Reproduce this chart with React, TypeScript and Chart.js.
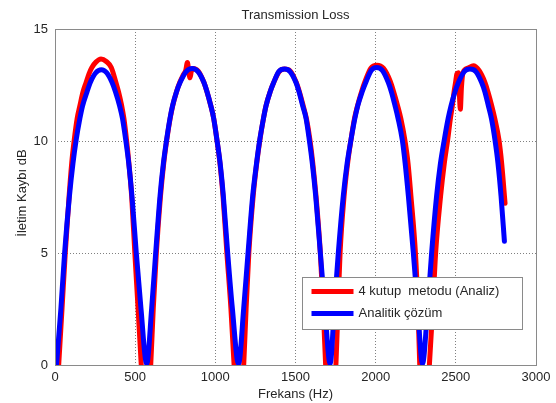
import React, { useEffect, useRef } from "react";
import { Chart, registerables } from "chart.js";

Chart.register(...registerables);

const chartTitle = "Transmission Loss";
const xAxisTitle = "Frekans (Hz)";
const yAxisTitle = "İletim Kaybı dB";
const legendLabels = ["4 kutup  metodu (Analiz)", "Analitik çözüm"];
const seriesColors = ["#ff0000", "#0000ff"];

const xTicks = [0, 500, 1000, 1500, 2000, 2500, 3000];
const yTicks = [0, 5, 10, 15];

// 4 kutup metodu (Analiz) — red
const freqAnaliz = [
  23, 44, 64, 88, 104, 120, 138, 155, 175, 194, 212, 230, 255, 287, 320, 351, 380, 396, 416, 430, 446, 461, 478, 498, 518, 538, 567,
  597, 613, 632, 658, 678, 697, 718, 734, 758, 778, 800, 815, 826, 834, 842, 850, 862, 893, 929, 948, 972, 990, 1010, 1029, 1048, 1072, 1097, 1117, 1145,
  1177, 1192, 1209, 1236, 1258, 1278, 1300, 1316, 1342, 1364, 1398, 1432, 1468, 1505, 1524, 1548, 1568, 1590, 1608, 1628, 1655, 1673, 1688, 1718,
  1752, 1765, 1778, 1803, 1825, 1846, 1868, 1888, 1912, 1936, 1970, 2008, 2048, 2092, 2112, 2137, 2157, 2182, 2202, 2220, 2248, 2264, 2275, 2300,
  2335, 2356, 2374, 2405, 2428, 2449, 2466, 2478, 2489, 2498, 2507, 2516, 2524, 2528, 2535, 2545, 2575, 2609, 2645, 2682, 2700, 2724, 2743, 2769, 2786, 2807,
];
const tlAnaliz = [
  0, 2.54, 5.0, 7.54, 9.0, 10.05, 11.0, 11.57, 12.2, 12.61, 13.0, 13.28, 13.52, 13.66, 13.55, 13.28, 12.61, 12.2, 11.57, 11.0, 10.05, 9.0, 7.54, 5.0, 2.54, 0, -3.5,
  0, 2.54, 5.0, 7.54, 9.0, 10.05, 11.0, 11.57, 12.2, 12.61, 12.95, 13.15, 13.5, 13.1, 12.82, 13.1, 13.24, 13.12, 12.61, 12.2, 11.57, 11.0, 10.05, 9.0, 7.54, 5.0, 2.54, 0, -3.5,
  0, 2.54, 5.0, 7.54, 9.0, 10.05, 11.0, 11.57, 12.2, 12.61, 13.1, 13.21, 13.12, 12.61, 12.2, 11.57, 11.0, 10.05, 9.0, 7.54, 5.0, 2.54, 0, -3.5,
  0, 2.54, 5.0, 7.54, 9.0, 10.05, 11.0, 11.6, 12.2, 12.7, 13.25, 13.38, 13.25, 12.65, 12.2, 11.57, 11.0, 10.05, 9.0, 7.54, 5.0, 2.54, 0, -3.5,
  0, 2.54, 5.0, 7.54, 9.0, 10.05, 11.0, 11.57, 12.2, 12.61, 13.0, 13.05, 11.8, 11.42, 12.4, 13.05, 13.25, 13.36, 13.15, 12.61, 12.2, 11.57, 11.0, 10.05, 9.0, 7.22,
];

// Analitik çözüm — blue
const freqAnalitik = [
  10, 37, 60, 90, 112, 132, 155, 172, 200, 220, 255, 289, 322, 356, 377, 403, 421, 441, 460, 480, 507, 536,
  572, 603, 628, 655, 676, 696, 717, 733, 758, 780, 818, 855, 892, 929, 948, 972, 990, 1010, 1030, 1050, 1077, 1106,
  1145, 1177, 1204, 1233, 1257, 1277, 1300, 1316, 1342, 1364, 1396, 1432, 1466, 1503, 1522, 1545, 1566, 1586, 1605, 1626, 1655, 1683,
  1716, 1742, 1767, 1798, 1822, 1846, 1870, 1888, 1916, 1938, 1972, 2006, 2042, 2079, 2098, 2121, 2140, 2166, 2184, 2204, 2235, 2262,
  2292, 2324, 2349, 2380, 2404, 2428, 2452, 2470, 2495, 2516, 2552, 2588, 2625, 2661, 2681, 2703, 2722, 2744, 2763, 2782, 2803,
];
const tlAnalitik = [
  0.05, 2.54, 5.0, 7.54, 9.0, 10.05, 11.0, 11.57, 12.2, 12.61, 13.05, 13.18, 13.05, 12.61, 12.2, 11.57, 11.0, 10.05, 9.0, 7.54, 5.0, 2.54,
  0.05, 2.54, 5.0, 7.54, 9.0, 10.05, 11.0, 11.57, 12.2, 12.61, 13.1, 13.24, 13.1, 12.61, 12.2, 11.57, 11.0, 10.05, 9.0, 7.54, 5.0, 2.54,
  0.05, 2.54, 5.0, 7.54, 9.0, 10.05, 11.0, 11.57, 12.2, 12.61, 13.1, 13.21, 13.1, 12.61, 12.2, 11.57, 11.0, 10.05, 9.0, 7.54, 5.0, 2.54,
  0.05, 2.54, 5.0, 7.54, 9.0, 10.05, 11.0, 11.57, 12.2, 12.61, 13.15, 13.28, 13.15, 12.61, 12.2, 11.57, 11.0, 10.05, 9.0, 7.54, 5.0, 2.54,
  0.05, 2.54, 5.0, 7.54, 9.0, 10.05, 11.0, 11.57, 12.2, 12.61, 13.1, 13.21, 13.1, 12.61, 12.2, 11.57, 11.0, 10.05, 9.0, 7.54, 5.52,
];

const FONT_FAMILY = '"Liberation Sans", Arial, Helvetica, sans-serif';
const TEXT_COLOR = "#262626";

const decorPlugin = {
  id: "decor",
  afterDraw(chart: any) {
    const { ctx, chartArea: a } = chart;
    ctx.save();
    // axes box
    ctx.strokeStyle = "#8a8a8a";
    ctx.lineWidth = 1;
    ctx.setLineDash([]);
    const L = Math.round(a.left) + 0.5;
    const T = Math.round(a.top) + 0.5;
    const R = Math.round(a.right) + 0.5;
    const B = Math.round(a.bottom) + 0.5;
    ctx.strokeRect(L, T, R - L, B - T);

    // titles
    ctx.fillStyle = TEXT_COLOR;
    ctx.font = `13px ${FONT_FAMILY}`;
    ctx.textAlign = "center";
    ctx.textBaseline = "middle";
    const cx = (a.left + a.right) / 2;
    ctx.fillText(chartTitle, cx, a.top - 14);
    ctx.fillText(xAxisTitle, cx, a.bottom + 29);
    ctx.save();
    ctx.translate(22, (a.top + a.bottom) / 2 - 4);
    ctx.rotate(-Math.PI / 2);
    ctx.fillText(yAxisTitle, 0, 0);
    ctx.restore();

    // legend
    const bx = Math.round(a.right) - 234 + 0.5;
    const by = Math.round(a.bottom) - 88 + 0.5;
    const bw = 220;
    const bh = 52;
    ctx.fillStyle = "#ffffff";
    ctx.fillRect(bx, by, bw, bh);
    ctx.strokeStyle = "#8a8a8a";
    ctx.lineWidth = 1;
    ctx.strokeRect(bx, by, bw, bh);
    legendLabels.forEach((label, i) => {
      const y = by + 14 + i * 22;
      ctx.strokeStyle = seriesColors[i];
      ctx.lineWidth = 5;
      ctx.beginPath();
      ctx.moveTo(bx + 9, y);
      ctx.lineTo(bx + 51, y);
      ctx.stroke();
      ctx.fillStyle = TEXT_COLOR;
      ctx.textAlign = "left";
      ctx.textBaseline = "middle";
      ctx.fillText(label, bx + 56, y);
    });
    ctx.restore();
  },
};

export default function App() {
  const ref = useRef<HTMLCanvasElement>(null);
  useEffect(() => {
    document.body.style.margin = "0";
    const canvas = ref.current!;
    const gridColor = (edgeMin: number, edgeMax: number) => (c: any) =>
      c.tick && (c.tick.value === edgeMin || c.tick.value === edgeMax) ? "rgba(0,0,0,0)" : "#808080";
    const lineStyle = (i: number) => ({
      showLine: true,
      borderColor: seriesColors[i],
      backgroundColor: seriesColors[i],
      borderWidth: 5,
      pointRadius: 0,
      cubicInterpolationMode: "monotone",
      borderJoinStyle: "round",
      borderCapStyle: "round",
      clip: 0,
    });
    const chart = new Chart(canvas, {
      type: "scatter",
      data: {
        datasets: [
          {
            label: legendLabels[0],
            data: freqAnaliz.map((x, i) => ({ x, y: tlAnaliz[i] })),
            ...lineStyle(0),
            order: 1,
          } as any,
          {
            label: legendLabels[1],
            data: freqAnalitik.map((x, i) => ({ x, y: tlAnalitik[i] })),
            ...lineStyle(1),
            order: 0,
          } as any,
        ],
      },
      options: {
        responsive: false,
        animation: false,
        events: [],
        layout: { padding: { top: 29, right: 20, bottom: 0, left: 0 } },
        plugins: {
          legend: { display: false },
          tooltip: { enabled: false },
          title: { display: false },
        },
        scales: {
          x: {
            type: "linear",
            min: xTicks[0],
            max: xTicks[xTicks.length - 1],
            afterFit: (s: any) => {
              s.height = 38;
            },
            afterBuildTicks: (s: any) => {
              s.ticks = xTicks.map((v) => ({ value: v }));
            },
            ticks: {
              padding: 5,
              color: TEXT_COLOR,
              font: { family: FONT_FAMILY, size: 13 },
              maxRotation: 0,
              autoSkip: false,
              callback: (v: any) => String(v),
            },
            grid: { color: gridColor(0, 3000), drawTicks: false, lineWidth: 1 },
            border: { display: false, dash: [1, 2] },
          },
          y: {
            type: "linear",
            min: yTicks[0],
            max: yTicks[yTicks.length - 1],
            afterFit: (s: any) => {
              s.width = 55;
            },
            afterBuildTicks: (s: any) => {
              s.ticks = yTicks.map((v) => ({ value: v }));
            },
            ticks: {
              padding: 7,
              color: TEXT_COLOR,
              font: { family: FONT_FAMILY, size: 13 },
              autoSkip: false,
              callback: (v: any) => String(v),
            },
            grid: { color: gridColor(0, 15), drawTicks: false, lineWidth: 1 },
            border: { display: false, dash: [1, 2] },
          },
        },
      } as any,
      plugins: [decorPlugin],
    });
    return () => chart.destroy();
  }, []);
  return (
    <div style={{ width: 556, height: 403, background: "#ffffff" }}>
      <canvas ref={ref} width={556} height={403} style={{ display: "block" }} />
    </div>
  );
}
